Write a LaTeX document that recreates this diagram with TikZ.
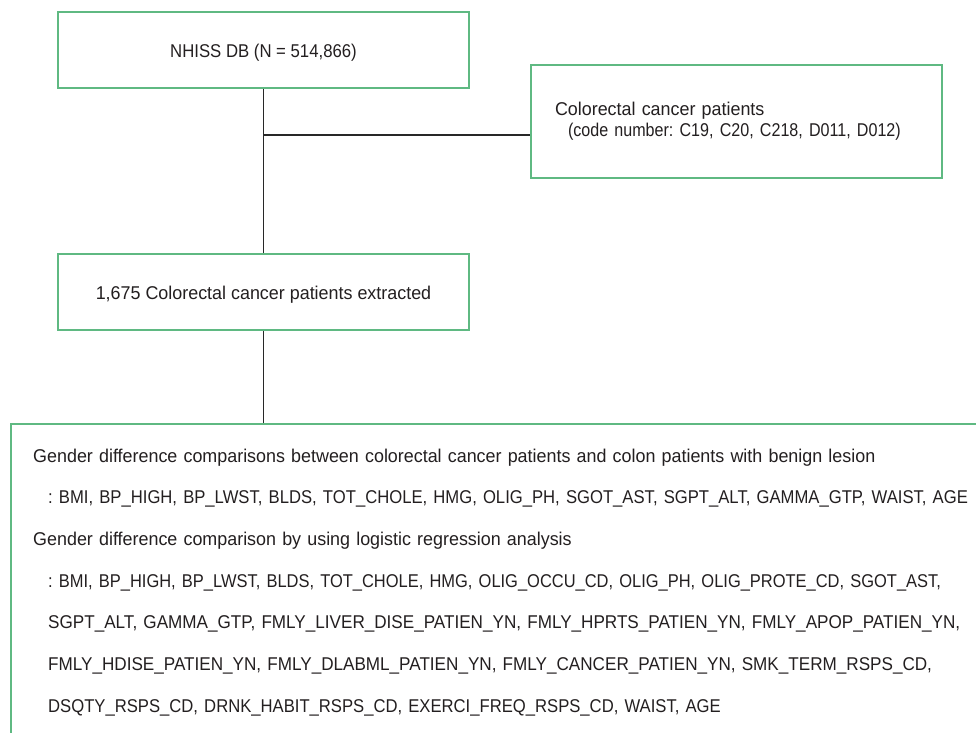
\documentclass[tikz,border=0pt]{standalone}
\usepackage{fontspec}
\setmainfont{Liberation Sans}[FakeStretch=0.968]
\newfontfamily\condfont{Liberation Sans}[FakeStretch=0.905]
\newfontfamily\condnarrow{Liberation Sans}[FakeStretch=0.87]
\newfontfamily\condlistA{Liberation Sans}[FakeStretch=0.89]
\newfontfamily\condlistB{Liberation Sans}[FakeStretch=0.90]
\newfontfamily\condlistC{Liberation Sans}[FakeStretch=0.925]
\definecolor{boxgreen}{RGB}{95,185,130}
\definecolor{txt}{RGB}{35,31,32}
\definecolor{connc}{RGB}{40,40,40}
\frenchspacing
\begin{document}
\frenchspacing
\begin{tikzpicture}[x=1pt,y=-1pt,
  greenbox/.style={draw=boxgreen, line width=1.6pt, fill=white, rectangle, inner sep=0pt,
    text=txt, font=\fontsize{18.5}{21}\selectfont},
  conn/.style={draw=connc, line width=1.2pt},
  body/.style={text=txt, font=\fontsize{18.5}{41.7}\selectfont, align=left, inner sep=0pt, text width=960pt}]
\useasboundingbox (0,0) rectangle (976,732);
\clip (0,0) rectangle (976,732);
\fill[white] (0,0) rectangle (976,732);
\node[greenbox, minimum width=411pt, minimum height=76pt, text height=14pt, text depth=0pt] (db) at (263.5,50)
  {{\condfont NHISS DB (N = 514,866)}};
\node[greenbox, minimum width=411pt, minimum height=113pt, text width=363pt, align=left] (crc) at (736.5,121.5)
  {Colorectal cancer patients\\\hspace*{13pt}{\condnarrow (code number: C19, C20, C218, D011, D012)}};
\node[greenbox, minimum width=411pt, minimum height=76pt, text height=14pt, text depth=0pt] (ext) at (263.5,292)
  {1,675 Colorectal cancer patients extracted};
\node[draw=boxgreen, line width=1.6pt, anchor=north west, minimum width=1000pt, minimum height=400pt, inner sep=0pt] (res) at (10,423) {};
\node[body, anchor=base west] (restext) at (33,462) {Gender difference comparisons between colorectal cancer patients and colon patients with benign lesion\\
\hspace*{15pt}{\condlistB : BMI, BP\_HIGH, BP\_LWST, BLDS, TOT\_CHOLE, HMG, OLIG\_PH, SGOT\_AST, SGPT\_ALT, GAMMA\_GTP, WAIST, AGE}\\
Gender difference comparison by using logistic regression analysis\\
\hspace*{15pt}{\condlistA : BMI, BP\_HIGH, BP\_LWST, BLDS, TOT\_CHOLE, HMG, OLIG\_OCCU\_CD, OLIG\_PH, OLIG\_PROTE\_CD, SGOT\_AST,}\\
\hspace*{15pt}{\condlistC SGPT\_ALT, GAMMA\_GTP, FMLY\_LIVER\_DISE\_PATIEN\_YN, FMLY\_HPRTS\_PATIEN\_YN, FMLY\_APOP\_PATIEN\_YN,}\\
\hspace*{15pt}{\condlistC FMLY\_HDISE\_PATIEN\_YN, FMLY\_DLABML\_PATIEN\_YN, FMLY\_CANCER\_PATIEN\_YN, SMK\_TERM\_RSPS\_CD,}\\
\hspace*{15pt}{\condlistB DSQTY\_RSPS\_CD, DRNK\_HABIT\_RSPS\_CD, EXERCI\_FREQ\_RSPS\_CD, WAIST, AGE}};
\coordinate (junction) at (263.5,135);
\draw[conn] (db.south) -- (ext.north);
\draw[conn] (junction) -- (junction -| crc.west);
\draw[conn] (ext.south) -- (ext.south |- res.north);
\end{tikzpicture}
\end{document}
